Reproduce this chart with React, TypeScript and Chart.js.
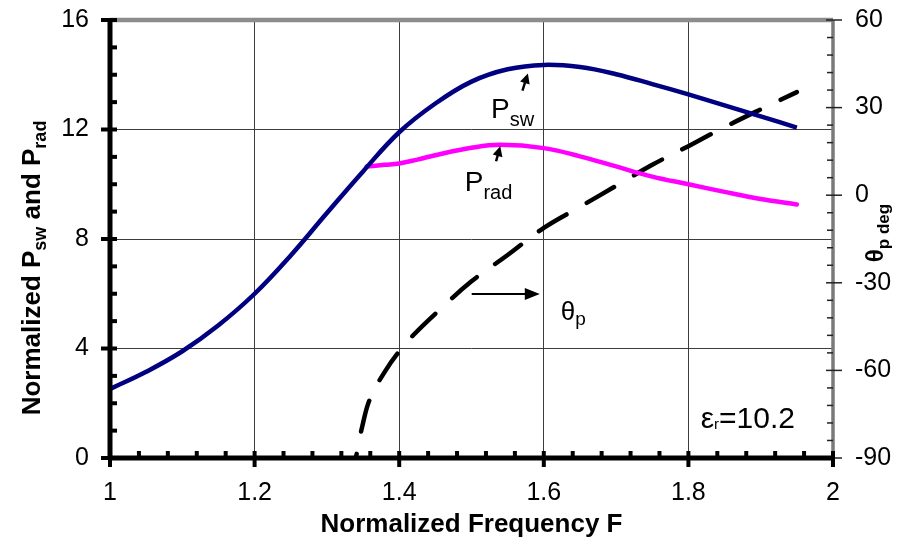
import React, { useEffect, useRef } from "react";
import { Chart, registerables } from "chart.js";

Chart.register(...registerables);

// ---- data ----
const pswFreq = [1.0, 1.05, 1.1, 1.15, 1.2, 1.25, 1.3, 1.35, 1.4, 1.45, 1.5, 1.55, 1.6, 1.65, 1.7, 1.75, 1.8, 1.85, 1.9, 1.95];
const pswValues = [2.52, 3.15, 3.9, 4.85, 6.0, 7.4, 8.95, 10.47, 11.9, 12.95, 13.75, 14.2, 14.36, 14.28, 14.02, 13.66, 13.28, 12.88, 12.48, 12.07];

const pradFreq = [1.355, 1.38, 1.4, 1.425, 1.45, 1.5, 1.54, 1.6, 1.65, 1.7, 1.75, 1.8, 1.85, 1.9, 1.95];
const pradValues = [10.65, 10.71, 10.76, 10.9, 11.06, 11.33, 11.44, 11.32, 11.02, 10.65, 10.28, 10.0, 9.72, 9.46, 9.26];

const thetaFreq = [1.34, 1.35, 1.36, 1.38, 1.4, 1.42, 1.45, 1.5, 1.55, 1.6, 1.65, 1.7, 1.75, 1.8, 1.85, 1.9, 1.95];
const thetaValues = [-90, -78, -69.5, -60.5, -53.5, -47.8, -40.6, -29.5, -20.5, -11.2, -4.0, 3.2, 10.4, 16.8, 23.3, 29.4, 35.3];

const xTickValues = [1, 1.2, 1.4, 1.6, 1.8, 2];
const leftTickValues = [0, 4, 8, 12, 16];
const rightTickValues = [-90, -60, -30, 0, 30, 60];

const FONT = "'Liberation Sans', Arial, sans-serif";

type Part = { t: string; size: number; dy?: number; bold?: boolean };

function drawRich(ctx: CanvasRenderingContext2D, x: number, y: number, parts: Part[], align: "left" | "center" = "left") {
  let total = 0;
  const widths = parts.map((p) => {
    ctx.font = `${p.bold ? "bold " : ""}${p.size}px ${FONT}`;
    const w = ctx.measureText(p.t).width;
    total += w;
    return w;
  });
  let cx = align === "center" ? x - total / 2 : x;
  ctx.textBaseline = "alphabetic";
  ctx.textAlign = "left";
  parts.forEach((p, i) => {
    ctx.font = `${p.bold ? "bold " : ""}${p.size}px ${FONT}`;
    ctx.fillText(p.t, cx, y + (p.dy || 0));
    cx += widths[i];
  });
}

function drawArrow(ctx: CanvasRenderingContext2D, x1: number, y1: number, x2: number, y2: number, headLen: number, headW: number, lw: number) {
  const ang = Math.atan2(y2 - y1, x2 - x1);
  const bx = x2 - headLen * Math.cos(ang);
  const by = y2 - headLen * Math.sin(ang);
  ctx.setLineDash([]);
  ctx.lineCap = "butt";
  ctx.lineWidth = lw;
  ctx.beginPath();
  ctx.moveTo(x1, y1);
  ctx.lineTo(bx + 1 * Math.cos(ang), by + 1 * Math.sin(ang));
  ctx.stroke();
  ctx.beginPath();
  ctx.moveTo(x2, y2);
  ctx.lineTo(bx + (headW / 2) * Math.sin(ang), by - (headW / 2) * Math.cos(ang));
  ctx.lineTo(bx - (headW / 2) * Math.sin(ang), by + (headW / 2) * Math.cos(ang));
  ctx.closePath();
  ctx.fill();
}

const axesPlugin = {
  id: "axesDeco",
  afterDatasetsDraw(chart: any) {
    const { ctx, chartArea: a, scales } = chart;
    const sx = scales.x, sy = scales.y, sy1 = scales.y1;
    const line = (x1: number, y1: number, x2: number, y2: number) => {
      ctx.beginPath();
      ctx.moveTo(x1, y1);
      ctx.lineTo(x2, y2);
      ctx.stroke();
    };
    ctx.save();
    ctx.setLineDash([]);
    ctx.lineCap = "butt";
    // top border
    ctx.strokeStyle = "#8c8c8c";
    ctx.lineWidth = 4.5;
    line(a.left, a.top, a.right, a.top);
    // right axis
    ctx.strokeStyle = "#7a7a7a";
    ctx.lineWidth = 3.5;
    line(a.right, a.top, a.right, a.bottom);
    ctx.strokeStyle = "#222";
    ctx.lineWidth = 1.5;
    for (let v = -90; v <= 60; v += 6) {
      const py = sy1.getPixelForValue(v);
      if (v % 30 === 0) line(a.right - 7, py, a.right + 9, py);
      else line(a.right - 6, py, a.right, py);
    }
    // left axis
    ctx.strokeStyle = "#000";
    ctx.lineWidth = 5;
    line(a.left, a.top - 2, a.left, a.bottom + 2);
    ctx.lineWidth = 4;
    for (let v = 0; v <= 16; v += 1) {
      const py = sy.getPixelForValue(v);
      if (v % 4 === 0) line(a.left - 9, py, a.left + 7, py);
      else line(a.left, py, a.left + 7, py);
    }
    // bottom axis
    ctx.lineWidth = 5;
    line(a.left - 2, a.bottom, a.right + 2, a.bottom);
    ctx.lineWidth = 4;
    for (let i = 0; i <= 25; i++) {
      const px = sx.getPixelForValue(1 + i * 0.04);
      if (i % 5 === 0) line(px, a.bottom - 7, px, a.bottom + 9);
      else line(px, a.bottom - 7, px, a.bottom);
    }
    ctx.restore();
  },
  afterDraw(chart: any) {
    const { ctx, chartArea: a, scales } = chart;
    const sx = scales.x, sy = scales.y, sy1 = scales.y1;
    const X = (f: number) => sx.getPixelForValue(f);
    const YL = (v: number) => sy.getPixelForValue(v);
    const YR = (v: number) => sy1.getPixelForValue(v);
    ctx.save();
    ctx.setLineDash([]);
    ctx.fillStyle = "#000";
    ctx.strokeStyle = "#000";

    // x title
    drawRich(ctx, (a.left + a.right) / 2, 532, [{ t: "Normalized Frequency F", size: 26, bold: true }], "center");

    // left title (rotated)
    ctx.save();
    ctx.translate(40, 268);
    ctx.rotate(-Math.PI / 2);
    drawRich(
      ctx,
      0,
      0,
      [
        { t: "Normalized P", size: 26, bold: true },
        { t: "sw", size: 18, bold: true, dy: 6 },
        { t: " and P", size: 26, bold: true },
        { t: "rad", size: 18, bold: true, dy: 6 },
      ],
      "center"
    );
    ctx.restore();

    // right title (rotated)
    ctx.save();
    ctx.translate(883, 233);
    ctx.rotate(-Math.PI / 2);
    drawRich(
      ctx,
      0,
      0,
      [
        { t: "θ", size: 24, bold: true },
        { t: "p deg", size: 17, bold: true, dy: 6 },
      ],
      "center"
    );
    ctx.restore();

    // annotations
    drawRich(ctx, X(1.527), YL(12.42), [
      { t: "P", size: 28 },
      { t: "sw", size: 20, dy: 8 },
    ]);
    drawArrow(ctx, X(1.5705), YL(13.42), X(1.578), YL(14.05), 10, 10, 2.5);

    drawRich(ctx, X(1.4907), YL(9.74), [
      { t: "P", size: 28 },
      { t: "rad", size: 20, dy: 8 },
    ]);
    drawArrow(ctx, X(1.534), YL(10.84), X(1.5398), YL(11.39), 10, 10, 2.5);

    drawRich(ctx, X(1.6235), YR(-42.7), [
      { t: "θ", size: 26 },
      { t: "p", size: 19, dy: 5 },
    ]);
    drawArrow(ctx, X(1.5003), YR(-33.8), X(1.5945), YR(-33.8), 15, 12, 2);

    drawRich(ctx, X(1.817), YL(1.09), [
      { t: "ε", size: 30 },
      { t: "r", size: 15, dy: 1 },
      { t: "=10.2", size: 30 },
    ]);
    ctx.restore();
  },
};

function toPoints(xs: number[], ys: number[]) {
  return xs.map((x, i) => ({ x, y: ys[i] }));
}

export default function App() {
  const ref = useRef<HTMLCanvasElement | null>(null);
  useEffect(() => {
    if (!ref.current) return;
    const tickFont = { family: FONT, size: 25 };
    const edgeGrid = (lo: number, hi: number) => (c: any) =>
      c.tick && (Math.abs(c.tick.value - lo) < 1e-9 || Math.abs(c.tick.value - hi) < 1e-9) ? "rgba(0,0,0,0)" : "#3c3c3c";
    const chart = new Chart(ref.current, {
      type: "line",
      data: {
        datasets: [
          {
            label: "Psw",
            data: toPoints(pswFreq, pswValues),
            yAxisID: "y",
            borderColor: "#000080",
            borderWidth: 4.5,
            pointRadius: 0,
            tension: 0.4,
            fill: false,
          },
          {
            label: "Prad",
            data: toPoints(pradFreq, pradValues),
            yAxisID: "y",
            borderColor: "#ff00ff",
            borderWidth: 4.5,
            pointRadius: 0,
            tension: 0.4,
            borderCapStyle: "round",
            fill: false,
          },
          {
            label: "theta",
            data: toPoints(thetaFreq, thetaValues),
            yAxisID: "y1",
            borderColor: "#000",
            borderWidth: 4.5,
            borderDash: [32, 23],
            borderDashOffset: 28,
            borderCapStyle: "round",
            pointRadius: 0,
            tension: 0.4,
            fill: false,
          },
        ],
      },
      options: {
        responsive: false,
        animation: false,
        devicePixelRatio: 1,
        layout: { padding: { top: 20, left: 0, right: 0, bottom: 0 } },
        plugins: { legend: { display: false }, tooltip: { enabled: false } },
        scales: {
          x: {
            type: "linear",
            min: 1,
            max: 2,
            afterBuildTicks: (s: any) => {
              s.ticks = xTickValues.map((v) => ({ value: v }));
            },
            ticks: {
              font: tickFont,
              color: "#000",
              padding: 20,
              maxRotation: 0,
              callback: (v: any) => String(Number(Number(v).toFixed(1))),
            },
            grid: { color: edgeGrid(1, 2), lineWidth: 1, drawTicks: false },
            border: { display: false },
            afterFit: (s: any) => {
              s.height = 83;
              s.paddingLeft = 0;
              s.paddingRight = 0;
            },
          },
          y: {
            type: "linear",
            position: "left",
            min: 0,
            max: 16,
            afterBuildTicks: (s: any) => {
              s.ticks = leftTickValues.map((v) => ({ value: v }));
            },
            ticks: { font: tickFont, color: "#000", padding: 21 },
            grid: { color: edgeGrid(0, 16), lineWidth: 1, drawTicks: false },
            border: { display: false },
            afterFit: (s: any) => {
              s.width = 110;
              s.paddingTop = 0;
              s.paddingBottom = 0;
            },
          },
          y1: {
            type: "linear",
            position: "right",
            min: -90,
            max: 60,
            afterBuildTicks: (s: any) => {
              s.ticks = rightTickValues.map((v) => ({ value: v }));
            },
            ticks: { font: tickFont, color: "#000", padding: 22 },
            grid: { display: false, drawTicks: false },
            border: { display: false },
            afterFit: (s: any) => {
              s.width = 65;
              s.paddingTop = 0;
              s.paddingBottom = 0;
            },
          },
        },
      },
      plugins: [axesPlugin],
    } as any);
    return () => chart.destroy();
  }, []);
  return (
    <div style={{ position: "absolute", left: 0, top: 0, width: 898, height: 541, background: "#fff" }}>
      <canvas ref={ref} width={898} height={541} style={{ display: "block", width: 898, height: 541 }} />
    </div>
  );
}
